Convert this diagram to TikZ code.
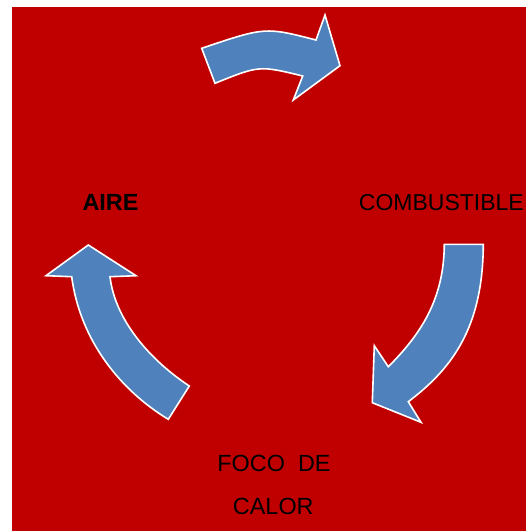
\documentclass[tikz,border=0pt]{standalone}
\usepackage{fontspec}
\setmainfont{Liberation Sans}
\definecolor{bgred}{RGB}{192,0,0}
\definecolor{arrowblue}{RGB}{79,129,189}
\begin{document}
\begin{tikzpicture}[x=1pt,y=-1pt,
  cyclearrow/.style={fill=arrowblue,draw=white,line width=1.6pt,line join=miter},
  label/.style={font=\fontsize{23.4}{28}\selectfont,text=black,inner sep=0pt}]
\useasboundingbox (0,0) rectangle (526,531);
\fill[white] (0,0) rectangle (526,531);
\fill[bgred] (12,7) rectangle (526,531);
% top arrow
\draw[cyclearrow] (201.7,48.3) .. controls (265.2,26.9) .. (316,40)
  -- (325,15) -- (340,65.7) -- (293.3,100) -- (302.7,76)
  .. controls (259.2,65.4) .. (215,83.3) -- cycle;
% right arrow
\draw[cyclearrow] (444.3,244.3) -- (483.3,244.3)
  .. controls (483,330) and (450,370) .. (408.3,401.7)
  -- (421,422.3) -- (372.3,402.7) -- (374.3,345.7) -- (388.3,366.7)
  .. controls (420,335) and (444,300) .. (444.3,244.3) -- cycle;
% left arrow
\draw[cyclearrow] (88.3,245) -- (136,275.7) -- (110,276.7)
  .. controls (115,320) and (150,360) .. (189.3,386)
  -- (168.3,419.3)
  .. controls (120,390) and (80,340) .. (71.7,276.7)
  -- (46,275.7) -- cycle;
% labels
\node[label,font=\fontsize{23.4}{28}\selectfont\bfseries] (aire) at (110.5,202) {AIRE};
\node[label,anchor=east,font=\fontsize{23}{27}\selectfont] (comb) at (524,202.3) {COMBUSTIBLE};
\node[label] (foco) at (274,463.3) {FOCO\ \ DE};
\node[label] (calor) at (273.3,506) {CALOR};
\end{tikzpicture}
\end{document}
